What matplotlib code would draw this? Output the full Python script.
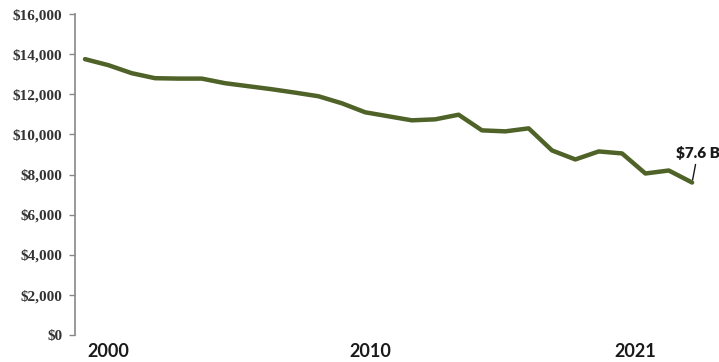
import matplotlib
matplotlib.use("Agg")
import matplotlib.pyplot as plt

# Data: one value per period, 27 points
values = [13750, 13450, 13050, 12800, 12780, 12780, 12550, 12400, 12250, 12080,
          11900, 11550, 11100, 10900, 10700, 10750, 10980, 10200, 10150, 10300,
          9200, 8750, 9150, 9050, 8050, 8200, 7600]
x_index = list(range(len(values)))

# Category labels shown under the axis and where they sit
tick_labels = ["2000", "2010", "2021"]
tick_positions = [0.98, 12.2, 23.55]

y_ticks = list(range(0, 16001, 2000))
y_tick_labels = ["$0", "$2,000", "$4,000", "$6,000", "$8,000", "$10,000",
                 "$12,000", "$14,000", "$16,000"]

annotation_text = "$7.6 B"

W, H = 719, 362
fig = plt.figure(figsize=(W / 100, H / 100), dpi=100)
ax = fig.add_axes([75 / W, (H - 335) / H, (705 - 75) / W, (335 - 14) / H])

ax.plot(x_index, values, color="#4F6228", linewidth=3.2, solid_joinstyle="round",
        solid_capstyle="round")

ax.set_xlim(-10 / 23.35, (705 - 85) / 23.35)
ax.set_ylim(0, 16000)

ax.set_yticks(y_ticks)
ax.set_yticklabels(y_tick_labels, family="Liberation Serif", fontweight="bold",
                   fontsize=11, color="#333333")
ax.set_xticks(tick_positions)
ax.set_xticklabels(tick_labels, family="Lato", fontweight="bold", fontsize=13,
                   color="#1a1a1a")

ax.tick_params(axis="x", length=0, pad=6)
ax.tick_params(axis="y", direction="out", length=4, width=1, color="#888888", pad=5)

for s in ["top", "right", "bottom"]:
    ax.spines[s].set_visible(False)
ax.spines["left"].set_color("#888888")
ax.spines["left"].set_linewidth(1.2)

ax.annotate(annotation_text, xy=(x_index[-1], values[-1]),
            xytext=(4, 16), textcoords="offset points",
            ha="center", va="bottom", family="Lato", fontweight="heavy",
            fontsize=11, color="#1a1a1a",
            arrowprops=dict(arrowstyle="-", color="#1a1a1a", lw=1.0,
                            shrinkA=1, shrinkB=2))

fig.savefig("out.png", dpi=100)
